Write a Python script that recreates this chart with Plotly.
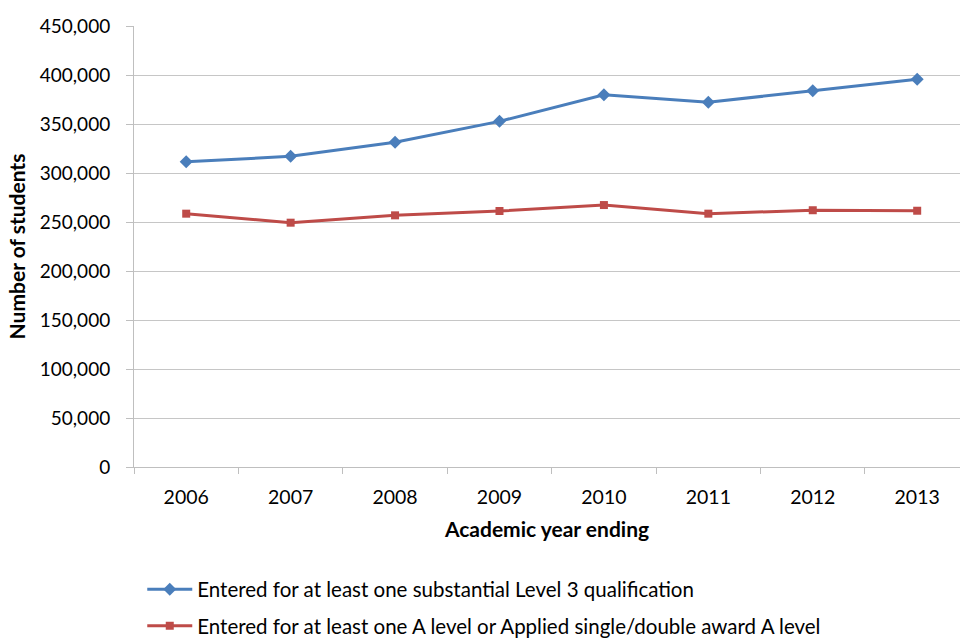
import plotly.graph_objects as go

years = ["2006", "2007", "2008", "2009", "2010", "2011", "2012", "2013"]
level3 = [311500, 317000, 331300, 352700, 379900, 372100, 384000, 395600]
alevel = [258500, 249300, 256800, 261200, 267300, 258500, 262000, 261500]
names = [
    "Entered for at least one substantial Level 3 qualification",
    "Entered for at least one A level or Applied single/double award A level",
]
ytickvals = [0, 50000, 100000, 150000, 200000, 250000, 300000, 350000, 400000, 450000]

FONT = "Lato, Open Sans, sans-serif"

fig = go.Figure()
fig.add_trace(go.Scatter(
    x=years, y=level3, name=names[0], mode="lines+markers", legendgroup="a",
    line=dict(color="#4A7EBB", width=3),
    marker=dict(symbol="diamond", size=10, color="#4A7EBB"),
))
fig.add_trace(go.Scatter(
    x=years, y=alevel, name=names[1], mode="lines+markers", legendgroup="b",
    line=dict(color="#BE4B48", width=3),
    marker=dict(symbol="square", size=8, color="#BE4B48"),
))

fig.update_layout(
    width=960, height=639,
    margin=dict(l=134, r=0, t=26, b=172, autoexpand=False),
    paper_bgcolor="white", plot_bgcolor="white",
    font=dict(family=FONT, size=19, color="#000000"),
    xaxis=dict(
        type="category", range=[-0.5, 7.41], automargin=False,
        tickson="boundaries", ticks="outside", ticklen=6, tickcolor="#bfbfbf",
        showline=True, linecolor="#bfbfbf", linewidth=1,
        showgrid=False, zeroline=False,
        tickfont=dict(family=FONT, size=19.5), ticklabelstandoff=13,
        title=dict(text="<b>Academic year ending</b>", font=dict(family=FONT, size=21), standoff=14),
    ),
    yaxis=dict(
        range=[0, 450000], tickvals=ytickvals, tickformat=",", automargin=False,
        ticks="outside", ticklen=7, tickcolor="#bfbfbf",
        showline=True, linecolor="#bfbfbf", linewidth=1,
        showgrid=True, gridcolor="#c6c6c6", gridwidth=1, zeroline=False,
        tickfont=dict(family=FONT, size=19), ticklabelstandoff=12,
        title=dict(text="<b>Number of students</b>", font=dict(family=FONT, size=21), standoff=8),
    ),
    legend=dict(
        x=0.01, xanchor="left", xref="paper",
        y=0.109, yanchor="top", yref="container",
        font=dict(family=FONT, size=20.5), traceorder="grouped", tracegroupgap=7,
        itemwidth=45,
        bgcolor="rgba(0,0,0,0)",
    ),
    showlegend=True,
)

fig.write_html(
    "out.html",
    config={"displayModeBar": False},
    post_script="document.body.style.margin='0';document.body.style.padding='0';",
)
